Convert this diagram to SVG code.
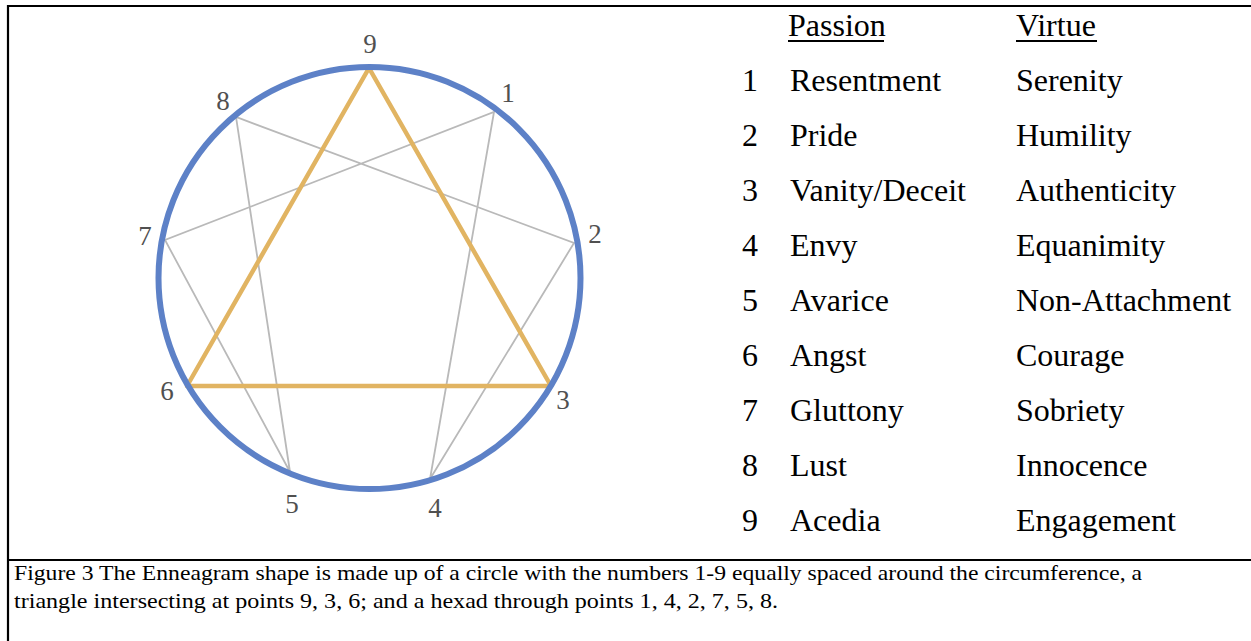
<svg xmlns="http://www.w3.org/2000/svg" width="1251" height="641" viewBox="0 0 1251 641">
<style>
.lbl{font-family:"Liberation Serif","Times New Roman",serif;font-size:27px;fill:#505050;text-anchor:middle}
.t{font-family:"Liberation Serif","Times New Roman",serif;font-size:32px;fill:#000}
.cap{font-family:"Liberation Serif","Times New Roman",serif;font-size:21px;fill:#000}
.hex{stroke:#b9b9b9;stroke-width:1.8;fill:none}
</style>
<rect width="1251" height="641" fill="#fff"/>
<g id="frame" stroke="#000" fill="none">
<path d="M8 641 V6 H1251" stroke-width="2.2"/>
<path d="M8 560 H1251" stroke-width="2"/>
</g>
<g id="connectors">
<path class="hex" d="M494 112 L430 479 L574 243 L236 117 L290 472 L165 240 Z"/>
<path d="M369 68 L551 386 L187 386 Z" fill="none" stroke="#e1b462" stroke-width="4.5" stroke-linejoin="round"/>
</g>
<g id="circle"><circle cx="369.5" cy="278" r="211" fill="none" stroke="#5d81c7" stroke-width="6"/></g>
<g id="labels">
<text class="lbl" x="370" y="53">9</text>
<text class="lbl" x="508" y="102">1</text>
<text class="lbl" x="595" y="243">2</text>
<text class="lbl" x="563" y="409">3</text>
<text class="lbl" x="435" y="517">4</text>
<text class="lbl" x="292" y="513">5</text>
<text class="lbl" x="167" y="400">6</text>
<text class="lbl" x="145" y="245">7</text>
<text class="lbl" x="223" y="110">8</text>
</g>
<g id="table">
<text class="t" x="788" y="36">Passion</text>
<text class="t" x="1016" y="36">Virtue</text>
<path d="M788 41 H884 M1016 41 H1097" stroke="#000" stroke-width="1.8"/>
<g class="t">
<text x="742" y="91">1</text><text x="790" y="91">Resentment</text><text x="1016" y="91">Serenity</text>
<text x="742" y="146">2</text><text x="790" y="146">Pride</text><text x="1016" y="146">Humility</text>
<text x="742" y="201">3</text><text x="790" y="201">Vanity/Deceit</text><text x="1016" y="201">Authenticity</text>
<text x="742" y="256">4</text><text x="790" y="256">Envy</text><text x="1016" y="256">Equanimity</text>
<text x="742" y="311">5</text><text x="790" y="311">Avarice</text><text x="1016" y="311">Non-Attachment</text>
<text x="742" y="366">6</text><text x="790" y="366">Angst</text><text x="1016" y="366">Courage</text>
<text x="742" y="421">7</text><text x="790" y="421">Gluttony</text><text x="1016" y="421">Sobriety</text>
<text x="742" y="476">8</text><text x="790" y="476">Lust</text><text x="1016" y="476">Innocence</text>
<text x="742" y="531">9</text><text x="790" y="531">Acedia</text><text x="1016" y="531">Engagement</text>
</g>
</g>
<g id="caption">
<text class="cap" x="14" y="580" textLength="1128" lengthAdjust="spacingAndGlyphs">Figure 3 The Enneagram shape is made up of a circle with the numbers 1-9 equally spaced around the circumference, a</text>
<text class="cap" x="14" y="608" textLength="764" lengthAdjust="spacingAndGlyphs">triangle intersecting at points 9, 3, 6; and a hexad through points 1, 4, 2, 7, 5, 8.</text>
</g>
</svg>
